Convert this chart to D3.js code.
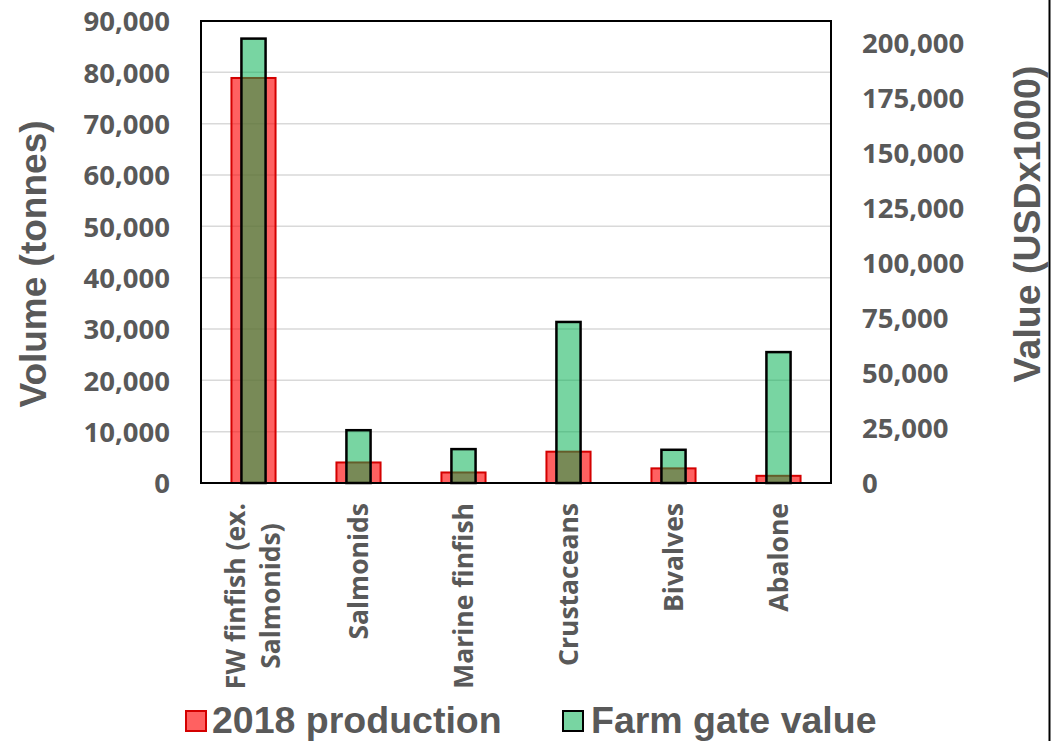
<!DOCTYPE html>
<html><head><meta charset="utf-8">
<script src="https://cdn.jsdelivr.net/npm/d3@7"></script>
<style>body{margin:0;background:#fff;overflow:hidden}</style>
</head><body>
<svg id="c" width="1054" height="741"></svg>
<script>
const categories = ["FW finfish (ex. Salmonids)", "Salmonids", "Marine finfish", "Crustaceans", "Bivalves", "Abalone"];
const categoryLines = [["FW finfish (ex.", "Salmonids)"], ["Salmonids"], ["Marine finfish"], ["Crustaceans"], ["Bivalves"], ["Abalone"]];
const production2018 = [78900, 4000, 2050, 6100, 2850, 1400];
const farmGateValue = [202000, 24000, 15400, 73200, 15100, 59500];
const volumeTicks = [0, 10000, 20000, 30000, 40000, 50000, 60000, 70000, 80000, 90000];
const valueTicks = [0, 25000, 50000, 75000, 100000, 125000, 150000, 175000, 200000];
const seriesNames = ["2018 production", "Farm gate value"];
const axisTitles = ["Volume (tonnes)", "Value (USDx1000)"];

const svg = d3.select("#c");
const L = 201, R = 831, T = 21, B = 483;
const x = d3.scaleBand().domain(categories).range([L, R]).padding(0);
const yL = d3.scaleLinear().domain([0, 90000]).range([B, T]);
const yR = d3.scaleLinear().domain([0, 210000]).range([B, T]);
const fmt = d3.format(",");
const grey = "#595959";
const tickFont = "'Open Sans', sans-serif";
const arialFont = "'Liberation Sans', Arial, sans-serif";

// gridlines
svg.append("g").selectAll("line").data(volumeTicks.filter(d => d > 0 && d < 90000)).join("line")
  .attr("x1", L).attr("x2", R).attr("y1", d => yL(d)).attr("y2", d => yL(d))
  .attr("stroke", "#d9d9d9").attr("stroke-width", 1.5);

// left axis
const gL = svg.append("g").attr("transform", `translate(${L},0)`)
  .call(d3.axisLeft(yL).tickValues(volumeTicks).tickFormat(fmt).tickSize(0).tickPadding(31));
gL.select(".domain").remove();
gL.selectAll("text").attr("font-family", tickFont).attr("font-weight", 700)
  .attr("font-size", 27.5).attr("fill", grey).attr("dy", "0.36em");

// right axis
const gR = svg.append("g").attr("transform", `translate(${R},0)`)
  .call(d3.axisRight(yR).tickValues(valueTicks).tickFormat(fmt).tickSize(0).tickPadding(31));
gR.select(".domain").remove();
gR.selectAll("text").attr("font-family", tickFont).attr("font-weight", 700)
  .attr("font-size", 27.5).attr("fill", grey).attr("dy", "0.36em");

// bars
const bw = x.bandwidth();
const redW = bw * 0.42, greenW = bw * 0.23;
svg.append("g").selectAll("rect").data(categories).join("rect")
  .attr("x", (d) => x(d) + bw / 2 - redW / 2)
  .attr("width", redW)
  .attr("y", (d, i) => yL(production2018[i]))
  .attr("height", (d, i) => B - yL(production2018[i]))
  .attr("fill", "rgba(255,0,0,0.62)")
  .attr("stroke", "#d40000").attr("stroke-width", 2);
svg.append("g").selectAll("rect").data(categories).join("rect")
  .attr("x", (d) => x(d) + bw / 2 - greenW / 2)
  .attr("width", greenW)
  .attr("y", (d, i) => yR(farmGateValue[i]))
  .attr("height", (d, i) => B - yR(farmGateValue[i]))
  .attr("fill", "rgba(0,176,80,0.53)")
  .attr("stroke", "#000").attr("stroke-width", 2.5);

// frame
svg.append("rect").attr("x", L).attr("y", T).attr("width", R - L).attr("height", B - T)
  .attr("fill", "none").attr("stroke", "#000").attr("stroke-width", 2);

// x labels
const lineH = 35;
categories.forEach((c, i) => {
  const lines = categoryLines[i];
  const cx = x(c) + bw / 2;
  const g = svg.append("g");
  const texts = lines.map((ln, j) => g.append("text").text(ln)
    .attr("font-family", tickFont).attr("font-weight", 700).attr("font-size", 26.5)
    .attr("fill", grey));
  const widths = texts.map(t => t.node().getComputedTextLength());
  const maxW = d3.max(widths);
  const top = 503;
  const n = lines.length;
  texts.forEach((t, j) => {
    const baseX = cx + 9 + (j - (n - 1) / 2) * lineH;
    t.attr("text-anchor", "middle")
      .attr("transform", `translate(${baseX},${top + maxW / 2}) rotate(-90)`);
  });
});

// axis titles
svg.append("text").text(axisTitles[0])
  .attr("transform", `translate(46,264) rotate(-90)`)
  .attr("text-anchor", "middle").attr("font-family", arialFont).attr("font-weight", 700)
  .attr("font-size", 37).attr("fill", grey);
svg.append("text").text(axisTitles[1])
  .attr("transform", `translate(1040,224) rotate(-90)`)
  .attr("text-anchor", "middle").attr("font-family", arialFont).attr("font-weight", 700)
  .attr("font-size", 37.5).attr("fill", grey);

// legend
const legendItems = [
  {name: seriesNames[0], fill: "rgba(255,0,0,0.62)", stroke: "#d40000", mx: 186, tx: 212},
  {name: seriesNames[1], fill: "rgba(0,176,80,0.53)", stroke: "#000", mx: 563, tx: 591}
];
const lg = svg.append("g");
legendItems.forEach(it => {
  lg.append("rect").attr("x", it.mx).attr("y", 711).attr("width", 20).attr("height", 20)
    .attr("fill", it.fill).attr("stroke", it.stroke).attr("stroke-width", 2);
  lg.append("text").text(it.name).attr("x", it.tx).attr("y", 733)
    .attr("font-family", arialFont).attr("font-weight", 700).attr("font-size", 37.5).attr("fill", grey);
});

// right border line of the picture
svg.append("line").attr("x1", 1049.5).attr("x2", 1049.5).attr("y1", 0).attr("y2", 741)
  .attr("stroke", "#000").attr("stroke-width", 2);
</script>
</body></html>
